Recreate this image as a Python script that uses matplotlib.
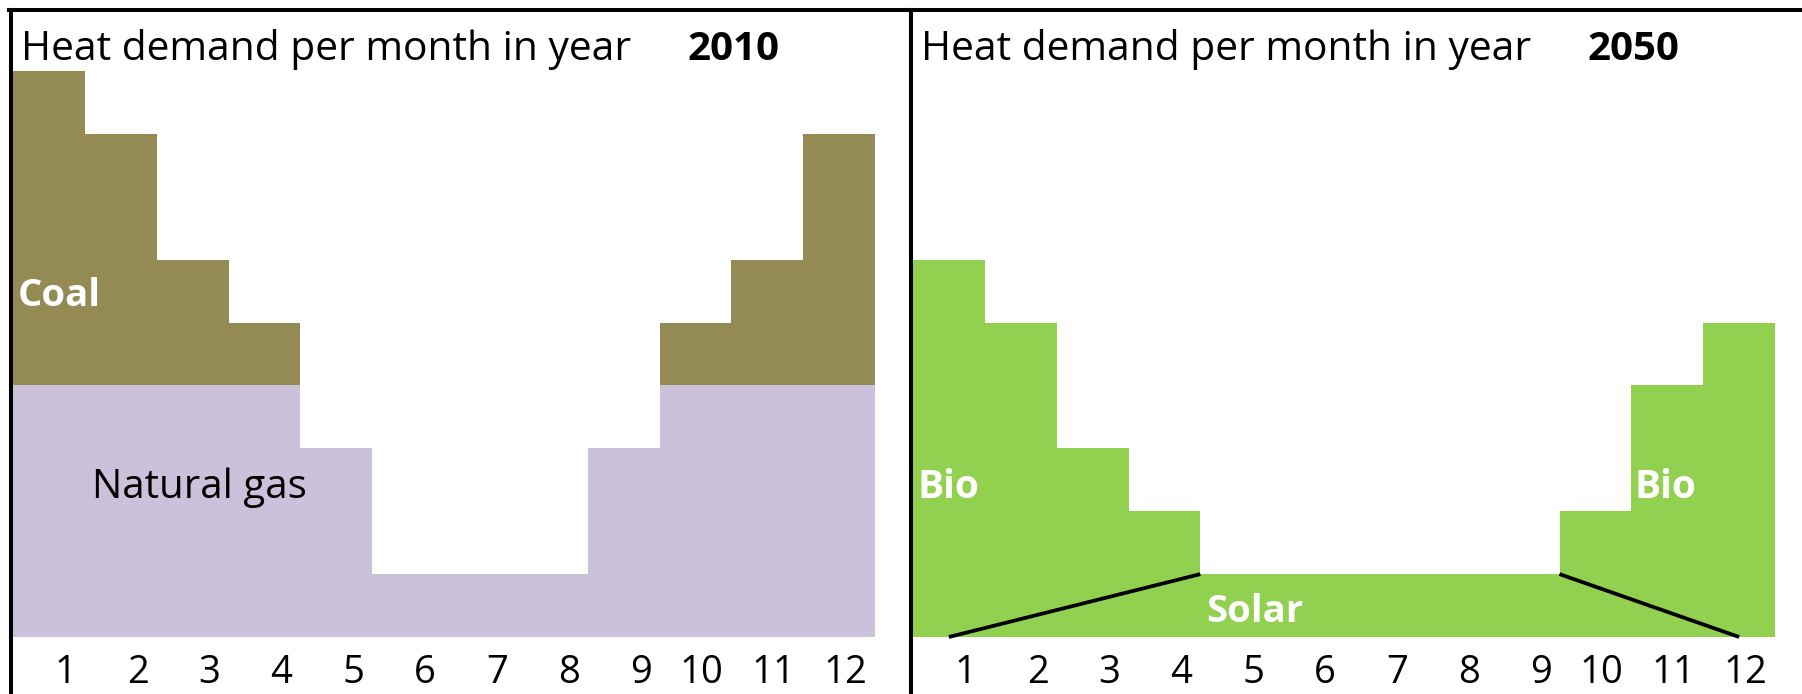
import numpy as np
import matplotlib
matplotlib.use("Agg")
import matplotlib.pyplot as plt
from matplotlib.lines import Line2D

plt.rcParams["font.family"] = ["Open Sans", "DejaVu Sans"]

# heat demand per month (arbitrary units)
months = list(range(1, 13))
gas_2010 = [4, 4, 4, 4, 3, 1, 1, 1, 3, 4, 4, 4]
coal_2010 = [5, 4, 2, 1, 0, 0, 0, 0, 0, 1, 2, 4]
bio_2050 = [6, 5, 3, 2, 1, 1, 1, 1, 1, 2, 4, 5]

# solar share wedges drawn over the 2050 bars
solar_left_x, solar_left_y = [1, 4.5], [0, 1]
solar_right_x, solar_right_y = [9.5, 12], [1, 0]

C_COAL = "#948A54"
C_GAS = "#CCC1DA"
C_BIO = "#92D050"

W, H = 1802, 694
fig = plt.figure(figsize=(W / 100, H / 100), dpi=100)

def px_axes(x0, x1, ytop, ybot):
    return fig.add_axes([x0 / W, (H - ybot) / H, (x1 - x0) / W, (ybot - ytop) / H])

ax1 = px_axes(13, 875, 71, 637)
ax2 = px_axes(913, 1775, 71, 637)

# month bars as filled steps, so neighbouring columns join without seams
edges = np.arange(len(months) + 1) + 0.5
gas = np.array(gas_2010)
total = gas + np.array(coal_2010)
ax1.stairs(gas, edges, baseline=0, fill=True, color=C_GAS, lw=0)
ax1.stairs(total, edges, baseline=gas, fill=True, color=C_COAL, lw=0)
ax2.stairs(bio_2050, edges, baseline=0, fill=True, color=C_BIO, lw=0)

ax2.plot(solar_left_x, solar_left_y, color="black", lw=2.7, solid_capstyle="butt",
         clip_on=False)
ax2.plot(solar_right_x, solar_right_y, color="black", lw=2.7, solid_capstyle="butt",
         clip_on=False)

for ax, year in ((ax1, "2010"), (ax2, "2050")):
    ax.set_xlim(0.5, 12.5)
    ax.set_ylim(0, 9)
    ax.axis("off")
    for m in months:
        ax.text(m + 0.39, -0.73, str(m), ha="right", va="baseline",
                fontsize=27.5, clip_on=False)
    ax.text(0.0093, 1.0194, "Heat demand per month in year", transform=ax.transAxes,
            ha="left", va="baseline", fontsize=29.3)
    ax.text(0.783, 1.0194, year, transform=ax.transAxes, ha="left", va="baseline",
            fontsize=29, fontweight="bold")

ax1.text(0.56, 5.27, "Coal", color="white", fontweight="bold", fontsize=27.5,
         ha="left", va="baseline")
ax1.text(1.6, 2.21, "Natural gas", color="black", fontsize=29,
         ha="left", va="baseline")
ax2.text(0.56, 2.21, "Bio", color="white", fontweight="bold", fontsize=28,
         ha="left", va="baseline")
ax2.text(10.54, 2.21, "Bio", color="white", fontweight="bold", fontsize=28,
         ha="left", va="baseline")
ax2.text(4.58, 0.24, "Solar", color="white", fontweight="bold", fontsize=27.5,
         ha="left", va="baseline")

# frame: top rule, left edge and divider between the two years
def px_line(xs, ys):
    fig.add_artist(Line2D([x / W for x in xs], [(H - y) / H for y in ys],
                          color="black", lw=2.9, solid_capstyle="projecting"))

px_line([9, W], [10, 10])
px_line([11, 11], [10, H])
px_line([911, 911], [10, H])

fig.savefig("out.png", dpi=100)
